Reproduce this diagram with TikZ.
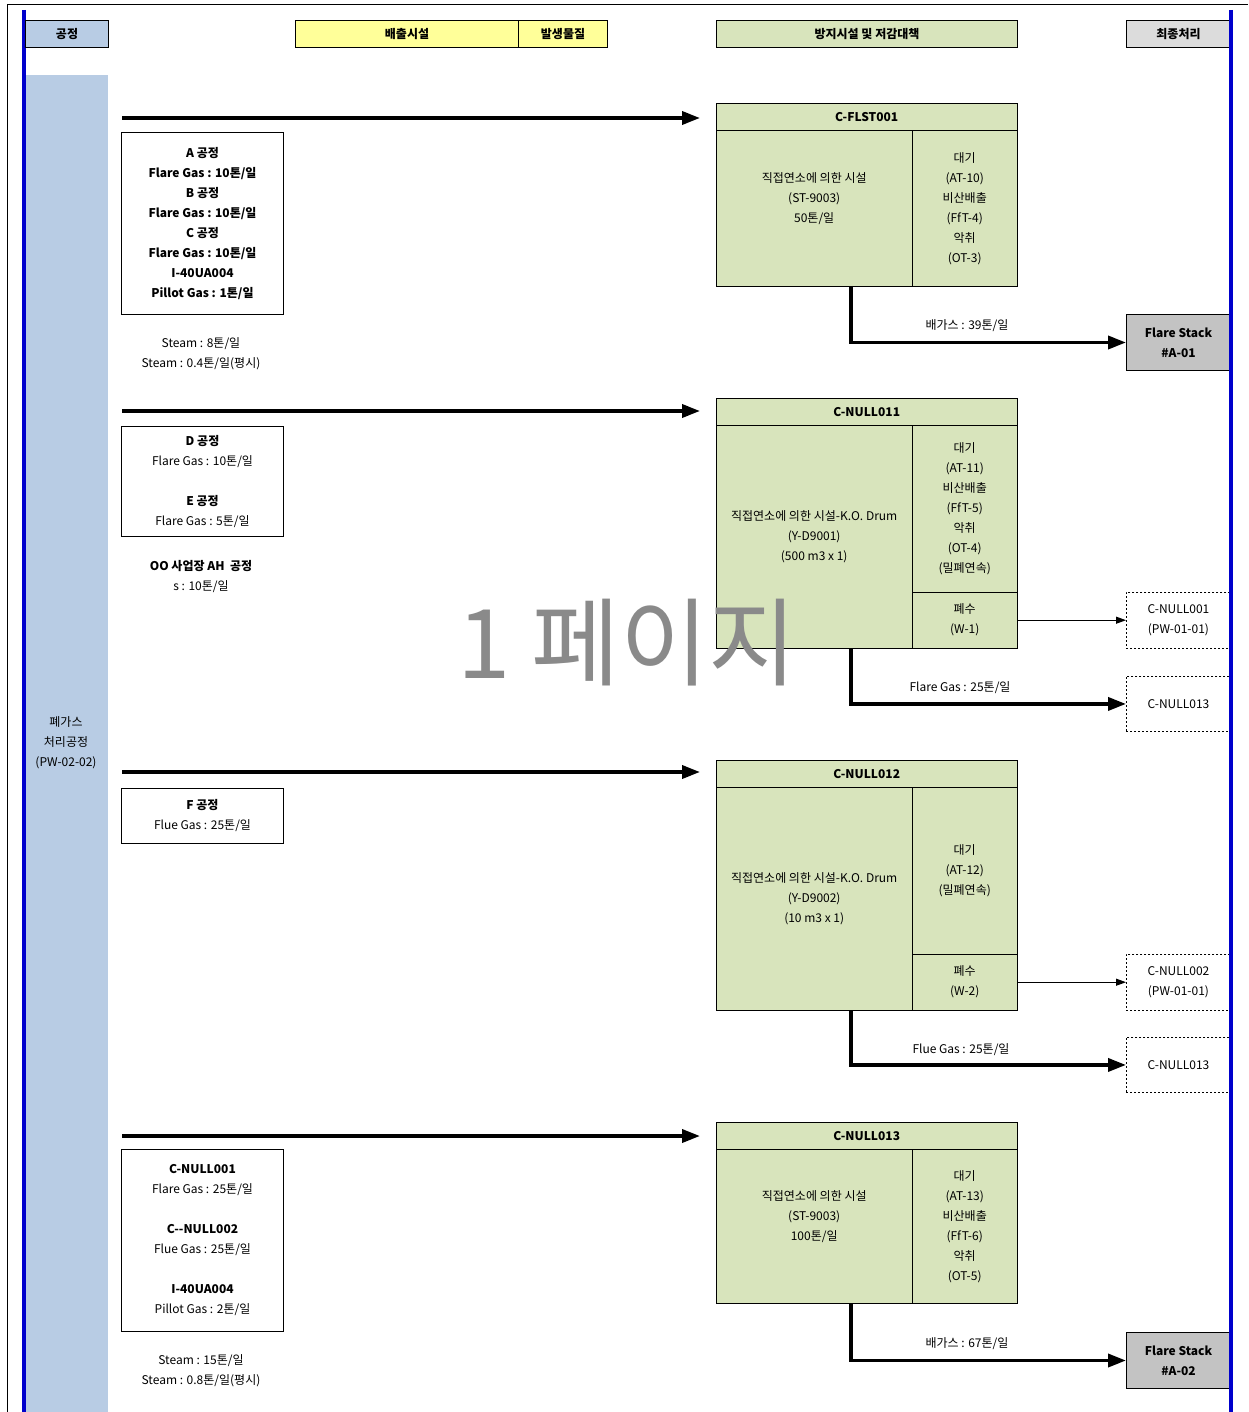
\documentclass[tikz,border=0pt]{standalone}
\usepackage{fontspec}
\setmainfont{Noto Sans CJK KR}
\usetikzlibrary{arrows.meta}

\definecolor{boxgreen}{HTML}{D8E4BC}
\definecolor{colblue}{HTML}{B8CCE4}
\definecolor{hdryellow}{HTML}{FFFF99}
\definecolor{hdrgray}{HTML}{DCDCDC}
\definecolor{stackgray}{HTML}{C3C3C3}
\definecolor{railblue}{HTML}{0000CC}
\definecolor{wmgray}{HTML}{8A8A8A}

\begin{document}
\begin{tikzpicture}[x=1pt,y=-1pt,
  txt/.style={font=\fontsize{12}{20}\selectfont, align=center, inner sep=0pt},
  hdr/.style={draw, line width=1pt, font=\fontsize{12}{14}\selectfont\bfseries, inner sep=0pt, anchor=north west, minimum height=27pt},
  srcbox/.style={draw, line width=1pt, fill=white, anchor=north west, align=center, inner sep=0pt, minimum width=162pt, font=\fontsize{12}{20}\selectfont},
  facbox/.style={draw, line width=1pt, fill=boxgreen, anchor=north west, inner sep=0pt, minimum width=301pt},
  cell/.style={anchor=north west, inner sep=0pt, align=center, font=\fontsize{12}{20}\selectfont},
  headcell/.style={cell, font=\fontsize{12}{14}\selectfont\bfseries, minimum width=301pt, minimum height=27pt},
  stackbox/.style={draw, line width=1pt, fill=stackgray, anchor=north west, inner sep=0pt, minimum width=104pt, minimum height=56pt, align=center, font=\fontsize{12}{20}\selectfont\bfseries},
  linkbox/.style={draw, line width=0.9pt, dash pattern=on 2pt off 2pt, fill=white, anchor=north west, inner sep=0pt, minimum width=104pt, minimum height=55pt, align=center, font=\fontsize{12}{20}\selectfont},
  flow/.style={line width=3.6pt, -{Triangle[length=18pt,width=13pt]}},
  thinflow/.style={line width=1pt, -{Triangle[length=10pt,width=7pt]}},
  flowlabel/.style={font=\fontsize{12}{14}\selectfont, inner sep=0pt}
]
\useasboundingbox (0,0) rectangle (1248,1412);
\fill[white] (0,0) rectangle (1248,1412);

% page frame and side rails
\draw[line width=1pt] (7,1412) -- (7,5) -- (1248,5);
\fill[colblue] (26,75) rectangle (108,1412);
\draw[railblue, line width=4pt] (24,10) -- (24,1412);

% column headers
\node[hdr, fill=colblue, minimum width=83pt] (hproc) at (25,20) {공정};
\node[hdr, fill=hdryellow, minimum width=223pt] (hsrc) at (295,20) {배출시설};
\node[hdr, fill=hdryellow, minimum width=89pt] (hmat) at (518,20) {발생물질};
\node[hdr, fill=boxgreen, minimum width=301pt] (hctl) at (716,20) {방지시설 및 저감대책};
\node[hdr, fill=hdrgray, minimum width=104pt] (hfin) at (1126,20) {최종처리};

\node[txt] (proc) at (66,743) {폐가스\\처리공정\\(PW-02-02)};

% ---------- C-FLST001 ----------
\node[srcbox, minimum height=182pt, font=\fontsize{12}{20}\selectfont\bfseries] (s1) at (121,132)
  {A 공정\\Flare Gas : 10톤/일\\B 공정\\Flare Gas : 10톤/일\\C 공정\\Flare Gas : 10톤/일\\I-40UA004\\Pillot Gas : 1톤/일};
\node[txt] (st1) at (201,354) {Steam : 8톤/일\\Steam : 0.4톤/일(평시)};
\node[facbox, minimum height=183pt] (f1) at (716,103) {};
\draw[line width=1pt] (716,131) -- (1017,131) (912,131) -- (912,286);
\node[headcell, minimum height=28pt] (f1h) at (716,103) {C-FLST001};
\node[cell, minimum width=196pt, minimum height=155pt] (f1m) at (716,131) {직접연소에 의한 시설\\(ST-9003)\\50톤/일\\[2pt]};
\node[cell, minimum width=105pt, minimum height=155pt] (f1e) at (912,131) {대기\\(AT-10)\\비산배출\\(FfT-4)\\악취\\(OT-3)};
\coordinate (in1) at (122,118);
\draw[flow, shorten >=16pt] (in1) -- (in1 -| f1.west);
\node[stackbox] (d1) at (1126,314) {Flare Stack\\\#A-01};
\coordinate (o1) at (851,286);
\draw[flow] (o1) |- (d1.west);
\node[flowlabel] (l1) at (967,326) {배가스 : 39톤/일};

% ---------- C-NULL011 ----------
\node[srcbox, minimum height=110pt] (s2) at (121,426)
  {\textbf{D 공정}\\Flare Gas : 10톤/일\\[20pt]\textbf{E 공정}\\Flare Gas : 5톤/일};
\node[txt] (st2) at (201,577) {\textbf{OO 사업장 AH\ \ 공정}\\s : 10톤/일};
\node[facbox, minimum height=250pt] (f2) at (716,398) {};
\draw[line width=1pt] (716,425) -- (1017,425) (912,425) -- (912,648) (912,592) -- (1017,592);
\node[headcell] (f2h) at (716,398) {C-NULL011};
\node[cell, minimum width=196pt, minimum height=223pt] (f2m) at (716,425) {직접연소에 의한 시설-K.O. Drum\\(Y-D9001)\\(500 m3 x 1)};
\node[cell, minimum width=105pt, minimum height=167pt] (f2e) at (912,425) {대기\\(AT-11)\\비산배출\\(FfT-5)\\악취\\(OT-4)\\(밀폐연속)};
\node[cell, minimum width=105pt, minimum height=56pt] (f2w) at (912,592) {폐수\\(W-1)};
\coordinate (in2) at (122,411);
\draw[flow, shorten >=16pt] (in2) -- (in2 -| f2.west);
\node[linkbox, minimum height=56pt] (d2a) at (1126,592) {C-NULL001\\(PW-01-01)};
\node[linkbox] (d2b) at (1126,676) {C-NULL013};
\draw[thinflow] (f2w.east) -- (f2w.east -| d2a.west);
\coordinate (o2) at (851,648);
\draw[flow] (o2) |- (d2b.west);
\node[flowlabel] (l2) at (960,688) {Flare Gas : 25톤/일};

% ---------- C-NULL012 ----------
\node[srcbox, minimum height=55pt] (s3) at (121,788)
  {\textbf{F 공정}\\Flue Gas : 25톤/일};
\node[facbox, minimum height=250pt] (f3) at (716,760) {};
\draw[line width=1pt] (716,787) -- (1017,787) (912,787) -- (912,1010) (912,954) -- (1017,954);
\node[headcell] (f3h) at (716,760) {C-NULL012};
\node[cell, minimum width=196pt, minimum height=223pt] (f3m) at (716,787) {직접연소에 의한 시설-K.O. Drum\\(Y-D9002)\\(10 m3 x 1)};
\node[cell, minimum width=105pt, minimum height=167pt] (f3e) at (912,787) {대기\\(AT-12)\\(밀폐연속)};
\node[cell, minimum width=105pt, minimum height=56pt] (f3w) at (912,954) {폐수\\(W-2)};
\coordinate (in3) at (122,772);
\draw[flow, shorten >=16pt] (in3) -- (in3 -| f3.west);
\node[linkbox, minimum height=56pt] (d3a) at (1126,954) {C-NULL002\\(PW-01-01)};
\node[linkbox] (d3b) at (1126,1037) {C-NULL013};
\draw[thinflow] (f3w.east) -- (f3w.east -| d3a.west);
\coordinate (o3) at (851,1010);
\draw[flow] (o3) |- (d3b.west);
\node[flowlabel] (l3) at (961,1050) {Flue Gas : 25톤/일};

% ---------- C-NULL013 ----------
\node[srcbox, minimum height=182pt] (s4) at (121,1149)
  {\textbf{C-NULL001}\\Flare Gas : 25톤/일\\[20pt]\textbf{C-{}-NULL002}\\Flue Gas : 25톤/일\\[20pt]\textbf{I-40UA004}\\Pillot Gas : 2톤/일};
\node[txt] (st4) at (201,1371) {Steam : 15톤/일\\Steam : 0.8톤/일(평시)};
\node[facbox, minimum height=181pt] (f4) at (716,1122) {};
\draw[line width=1pt] (716,1149) -- (1017,1149) (912,1149) -- (912,1303);
\node[headcell] (f4h) at (716,1122) {C-NULL013};
\node[cell, minimum width=196pt, minimum height=154pt] (f4m) at (716,1149) {직접연소에 의한 시설\\(ST-9003)\\100톤/일\\[2pt]};
\node[cell, minimum width=105pt, minimum height=154pt] (f4e) at (912,1149) {대기\\(AT-13)\\비산배출\\(FfT-6)\\악취\\(OT-5)};
\coordinate (in4) at (122,1136);
\draw[flow, shorten >=16pt] (in4) -- (in4 -| f4.west);
\node[stackbox] (d4) at (1126,1332) {Flare Stack\\\#A-02};
\coordinate (o4) at (851,1303);
\draw[flow] (o4) |- (d4.west);
\node[flowlabel] (l4) at (967,1344) {배가스 : 67톤/일};

% right rail over the final-treatment boxes
\draw[railblue, line width=4pt] (1231,10) -- (1231,1412);

% page watermark
\node[text=wmgray, font=\fontsize{96}{96}\selectfont, inner sep=0pt] (wm) at (627,643) {1 페이지};
\end{tikzpicture}
\end{document}
